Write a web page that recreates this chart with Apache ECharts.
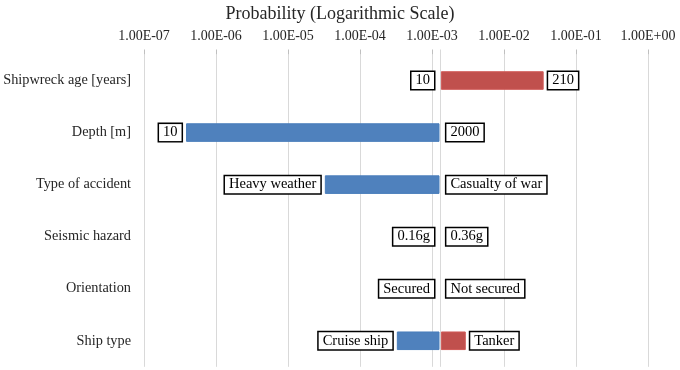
<!DOCTYPE html>
<html>
<head>
<meta charset="utf-8">
<script src="https://cdn.jsdelivr.net/npm/echarts@6/dist/echarts.min.js"></script>
<style>html,body{margin:0;padding:0;background:#fff}#c{width:680px;height:370px}</style>
</head>
<body>
<div id="c"></div>
<script>
var categories = ['Shipwreck age [years]', 'Depth [m]', 'Type of accident', 'Seismic hazard', 'Orientation', 'Ship type'];
var lowLabels = ['10', '10', 'Heavy weather', '0.16g', 'Secured', 'Cruise ship'];
var highLabels = ['210', '2000', 'Casualty of war', '0.36g', 'Not secured', 'Tanker'];
var baseValue = 1.3e-3;
var lowValues = [1.3e-3, 3.9e-7, 3.3e-5, 1.3e-3, 1.3e-3, 3.3e-4];
var highValues = [3.5e-2, 1.3e-3, 1.3e-3, 1.3e-3, 1.3e-3, 2.9e-3];

var FONT = '"Liberation Serif", "Times New Roman", serif';

function fmt(v) {
  var e = Math.round(Math.log10(v));
  var s = e < 0 ? '-' : '+';
  var a = Math.abs(e);
  return '1.00E' + s + (a < 10 ? '0' : '') + a;
}

function makeRender(values, labels, side, color, borderColor) {
  return function (params, api) {
    var i = params.dataIndex;
    var v = values[i];
    var p0 = api.coord([baseValue, i]);
    var p1 = api.coord([v, i]);
    var h = api.size([0, 1])[1] * 0.338;
    var inset = 1.2;
    var x0, x1;
    if (side === 'left') { x0 = p1[0]; x1 = p0[0] - inset; }
    else { x0 = p0[0] + inset; x1 = p1[0]; }
    var w = Math.max(0, x1 - x0);
    var children = [];
    if (w > 0.5) {
      children.push({
        type: 'rect',
        shape: { x: x0, y: p0[1] - h / 2, width: w, height: h },
        style: { fill: color, stroke: borderColor, lineWidth: 1 }
      });
    }
    var gap = 5;
    children.push({
      type: 'text',
      style: {
        text: labels[i],
        x: side === 'left' ? Math.min(x0, p0[0] - inset) - gap : Math.max(x1, p0[0] + inset) + gap,
        y: p0[1],
        align: side === 'left' ? 'right' : 'left',
        verticalAlign: 'middle',
        fontFamily: FONT,
        fontSize: 14.5,
        lineHeight: 15,
        fill: '#000',
        backgroundColor: '#fff',
        borderColor: '#000',
        borderWidth: 1.5,
        padding: [1, 4, 1, 4]
      },
      z2: 10
    });
    return { type: 'group', children: children };
  };
}

var chart = echarts.init(document.getElementById('c'), null, { renderer: 'canvas' });
chart.setOption({
  animation: false,
  backgroundColor: '#fff',
  title: {
    text: 'Probability (Logarithmic Scale)',
    left: 'center',
    top: 0,
    textStyle: { fontFamily: FONT, fontSize: 18, fontWeight: 'normal', color: '#262626' }
  },
  grid: { left: 144, right: 32, top: 54.5, bottom: 3.2, containLabel: false },
  xAxis: {
    type: 'log',
    logBase: 10,
    min: 1e-7,
    max: 1,
    position: 'top',
    axisLine: { show: false },
    axisTick: { show: true, length: 5, lineStyle: { color: '#bfbfbf' } },
    splitLine: { show: true, lineStyle: { color: '#d9d9d9', width: 1 } },
    axisLabel: {
      margin: 11,
      fontFamily: FONT,
      fontSize: 14,
      color: '#262626',
      formatter: function (v) { return fmt(v); }
    }
  },
  yAxis: {
    type: 'category',
    inverse: true,
    data: categories,
    axisLine: { show: false },
    axisTick: { show: false },
    splitLine: { show: false },
    axisLabel: { margin: 13, fontFamily: FONT, fontSize: 14.3, color: '#262626' }
  },
  series: [
    {
      type: 'custom',
      z: 1,
      data: [[baseValue, 0]],
      renderItem: function (params, api) {
        var p = api.coord([baseValue, 0]);
        var cs = params.coordSys;
        return {
          type: 'line',
          shape: { x1: Math.round(p[0]) + 0.5, y1: cs.y - 5, x2: Math.round(p[0]) + 0.5, y2: cs.y + cs.height },
          style: { stroke: '#d9d9d9', lineWidth: 1 }
        };
      },
      silent: true
    },
    {
      type: 'custom',
      z: 2,
      data: lowValues.map(function (v, i) { return [v, i]; }),
      encode: { x: 0, y: 1 },
      renderItem: makeRender(lowValues, lowLabels, 'left', '#4F81BD', '#4a7ebb')
    },
    {
      type: 'custom',
      z: 2,
      data: highValues.map(function (v, i) { return [v, i]; }),
      encode: { x: 0, y: 1 },
      renderItem: makeRender(highValues, highLabels, 'right', '#C0504D', '#d05a57')
    }
  ]
});
</script>
</body>
</html>
